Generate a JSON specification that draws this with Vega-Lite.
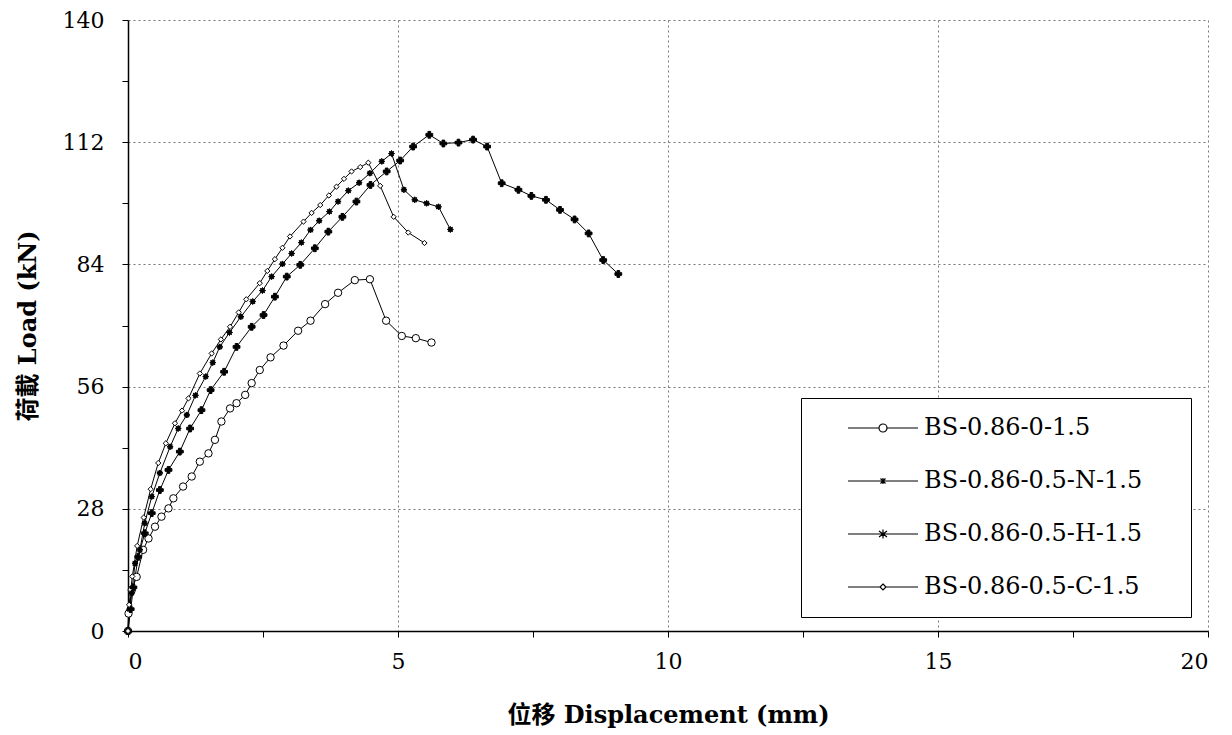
{
  "$schema": "https://vega.github.io/schema/vega-lite/v6.json",
  "width": 1080,
  "height": 611,
  "autosize": {"type": "none"},
  "padding": {"left": 128, "top": 20, "right": 24, "bottom": 104},
  "background": "white",
  "config": {
    "view": {"stroke": null},
    "font": "DejaVu Serif, Noto Sans CJK TC",
    "axis": {
      "labelFont": "DejaVu Serif",
      "labelFontSize": 22,
      "labelColor": "black",
      "titleFont": "DejaVu Serif, Noto Sans CJK TC",
      "titleFontSize": 24,
      "titleFontWeight": "bold",
      "titleColor": "black",
      "domainColor": "black",
      "domainWidth": 1.5,
      "tickColor": "black",
      "tickSize": 6,
      "tickWidth": 1,
      "gridColor": "#777777",
      "gridDash": [2, 3],
      "gridWidth": 1
    }
  },
  "data": {
    "values": [
      {"series": "BS-0.86-0-1.5", "x": 0, "y": 0},
      {"series": "BS-0.86-0-1.5", "x": 0.01, "y": 4},
      {"series": "BS-0.86-0-1.5", "x": 0.07, "y": 9.4},
      {"series": "BS-0.86-0-1.5", "x": 0.16, "y": 12.4},
      {"series": "BS-0.86-0-1.5", "x": 0.28, "y": 18.6},
      {"series": "BS-0.86-0-1.5", "x": 0.38, "y": 21.2},
      {"series": "BS-0.86-0-1.5", "x": 0.5, "y": 23.9},
      {"series": "BS-0.86-0-1.5", "x": 0.62, "y": 26.2},
      {"series": "BS-0.86-0-1.5", "x": 0.75, "y": 28.1},
      {"series": "BS-0.86-0-1.5", "x": 0.84, "y": 30.4},
      {"series": "BS-0.86-0-1.5", "x": 1.02, "y": 33.1},
      {"series": "BS-0.86-0-1.5", "x": 1.18, "y": 35.4},
      {"series": "BS-0.86-0-1.5", "x": 1.33, "y": 38.8},
      {"series": "BS-0.86-0-1.5", "x": 1.49, "y": 40.7},
      {"series": "BS-0.86-0-1.5", "x": 1.61, "y": 43.8},
      {"series": "BS-0.86-0-1.5", "x": 1.73, "y": 48.0},
      {"series": "BS-0.86-0-1.5", "x": 1.89, "y": 51.0},
      {"series": "BS-0.86-0-1.5", "x": 2.01, "y": 52.2},
      {"series": "BS-0.86-0-1.5", "x": 2.17, "y": 54.1},
      {"series": "BS-0.86-0-1.5", "x": 2.29, "y": 56.8},
      {"series": "BS-0.86-0-1.5", "x": 2.44, "y": 59.8},
      {"series": "BS-0.86-0-1.5", "x": 2.64, "y": 62.7},
      {"series": "BS-0.86-0-1.5", "x": 2.88, "y": 65.4},
      {"series": "BS-0.86-0-1.5", "x": 3.15, "y": 68.8},
      {"series": "BS-0.86-0-1.5", "x": 3.38, "y": 71.1},
      {"series": "BS-0.86-0-1.5", "x": 3.65, "y": 74.9},
      {"series": "BS-0.86-0-1.5", "x": 3.89, "y": 77.5},
      {"series": "BS-0.86-0-1.5", "x": 4.2, "y": 80.4},
      {"series": "BS-0.86-0-1.5", "x": 4.48, "y": 80.6},
      {"series": "BS-0.86-0-1.5", "x": 4.78, "y": 71.1},
      {"series": "BS-0.86-0-1.5", "x": 5.07, "y": 67.6},
      {"series": "BS-0.86-0-1.5", "x": 5.33, "y": 67.1},
      {"series": "BS-0.86-0-1.5", "x": 5.62, "y": 66.1},

      {"series": "BS-0.86-0.5-N-1.5", "x": 0, "y": 0},
      {"series": "BS-0.86-0.5-N-1.5", "x": 0.05, "y": 5},
      {"series": "BS-0.86-0.5-N-1.5", "x": 0.1, "y": 10},
      {"series": "BS-0.86-0.5-N-1.5", "x": 0.19, "y": 17},
      {"series": "BS-0.86-0.5-N-1.5", "x": 0.31, "y": 22.4},
      {"series": "BS-0.86-0.5-N-1.5", "x": 0.44, "y": 27},
      {"series": "BS-0.86-0.5-N-1.5", "x": 0.59, "y": 32.3},
      {"series": "BS-0.86-0.5-N-1.5", "x": 0.75, "y": 36.9},
      {"series": "BS-0.86-0.5-N-1.5", "x": 0.96, "y": 41.1},
      {"series": "BS-0.86-0.5-N-1.5", "x": 1.15, "y": 46.4},
      {"series": "BS-0.86-0.5-N-1.5", "x": 1.36, "y": 50.6},
      {"series": "BS-0.86-0.5-N-1.5", "x": 1.53, "y": 55.2},
      {"series": "BS-0.86-0.5-N-1.5", "x": 1.78, "y": 59.4},
      {"series": "BS-0.86-0.5-N-1.5", "x": 2.01, "y": 65.1},
      {"series": "BS-0.86-0.5-N-1.5", "x": 2.29, "y": 69.7},
      {"series": "BS-0.86-0.5-N-1.5", "x": 2.51, "y": 72.4},
      {"series": "BS-0.86-0.5-N-1.5", "x": 2.72, "y": 76.6},
      {"series": "BS-0.86-0.5-N-1.5", "x": 2.94, "y": 81.2},
      {"series": "BS-0.86-0.5-N-1.5", "x": 3.19, "y": 83.9},
      {"series": "BS-0.86-0.5-N-1.5", "x": 3.46, "y": 87.7},
      {"series": "BS-0.86-0.5-N-1.5", "x": 3.71, "y": 91.5},
      {"series": "BS-0.86-0.5-N-1.5", "x": 3.97, "y": 94.9},
      {"series": "BS-0.86-0.5-N-1.5", "x": 4.23, "y": 98.4},
      {"series": "BS-0.86-0.5-N-1.5", "x": 4.49, "y": 102.2},
      {"series": "BS-0.86-0.5-N-1.5", "x": 4.79, "y": 105.3},
      {"series": "BS-0.86-0.5-N-1.5", "x": 5.04, "y": 107.8},
      {"series": "BS-0.86-0.5-N-1.5", "x": 5.28, "y": 111},
      {"series": "BS-0.86-0.5-N-1.5", "x": 5.58, "y": 113.7},
      {"series": "BS-0.86-0.5-N-1.5", "x": 5.84, "y": 111.7},
      {"series": "BS-0.86-0.5-N-1.5", "x": 6.12, "y": 111.9},
      {"series": "BS-0.86-0.5-N-1.5", "x": 6.39, "y": 112.6},
      {"series": "BS-0.86-0.5-N-1.5", "x": 6.65, "y": 111},
      {"series": "BS-0.86-0.5-N-1.5", "x": 6.92, "y": 102.6},
      {"series": "BS-0.86-0.5-N-1.5", "x": 7.23, "y": 101.1},
      {"series": "BS-0.86-0.5-N-1.5", "x": 7.47, "y": 99.7},
      {"series": "BS-0.86-0.5-N-1.5", "x": 7.74, "y": 98.8},
      {"series": "BS-0.86-0.5-N-1.5", "x": 8.0, "y": 96.5},
      {"series": "BS-0.86-0.5-N-1.5", "x": 8.27, "y": 94.3},
      {"series": "BS-0.86-0.5-N-1.5", "x": 8.53, "y": 91.1},
      {"series": "BS-0.86-0.5-N-1.5", "x": 8.8, "y": 85.0},
      {"series": "BS-0.86-0.5-N-1.5", "x": 9.08, "y": 81.8},

      {"series": "BS-0.86-0.5-H-1.5", "x": 0, "y": 0},
      {"series": "BS-0.86-0.5-H-1.5", "x": 0.03, "y": 5},
      {"series": "BS-0.86-0.5-H-1.5", "x": 0.07, "y": 8.7},
      {"series": "BS-0.86-0.5-H-1.5", "x": 0.13, "y": 15.5},
      {"series": "BS-0.86-0.5-H-1.5", "x": 0.22, "y": 18.6},
      {"series": "BS-0.86-0.5-H-1.5", "x": 0.31, "y": 24.7},
      {"series": "BS-0.86-0.5-H-1.5", "x": 0.44, "y": 30.8},
      {"series": "BS-0.86-0.5-H-1.5", "x": 0.59, "y": 36.2},
      {"series": "BS-0.86-0.5-H-1.5", "x": 0.78, "y": 42.2},
      {"series": "BS-0.86-0.5-H-1.5", "x": 0.93, "y": 46.4},
      {"series": "BS-0.86-0.5-H-1.5", "x": 1.09, "y": 49.5},
      {"series": "BS-0.86-0.5-H-1.5", "x": 1.25, "y": 54},
      {"series": "BS-0.86-0.5-H-1.5", "x": 1.44, "y": 58.3},
      {"series": "BS-0.86-0.5-H-1.5", "x": 1.57, "y": 61.5},
      {"series": "BS-0.86-0.5-H-1.5", "x": 1.7, "y": 65.1},
      {"series": "BS-0.86-0.5-H-1.5", "x": 1.88, "y": 68.4},
      {"series": "BS-0.86-0.5-H-1.5", "x": 2.09, "y": 72.0},
      {"series": "BS-0.86-0.5-H-1.5", "x": 2.31, "y": 75.5},
      {"series": "BS-0.86-0.5-H-1.5", "x": 2.49, "y": 78.0},
      {"series": "BS-0.86-0.5-H-1.5", "x": 2.66, "y": 81.2},
      {"series": "BS-0.86-0.5-H-1.5", "x": 2.86, "y": 84.1},
      {"series": "BS-0.86-0.5-H-1.5", "x": 3.03, "y": 86.5},
      {"series": "BS-0.86-0.5-H-1.5", "x": 3.21, "y": 89.0},
      {"series": "BS-0.86-0.5-H-1.5", "x": 3.38, "y": 91.9},
      {"series": "BS-0.86-0.5-H-1.5", "x": 3.54, "y": 94.0},
      {"series": "BS-0.86-0.5-H-1.5", "x": 3.73, "y": 96.1},
      {"series": "BS-0.86-0.5-H-1.5", "x": 3.89, "y": 98.4},
      {"series": "BS-0.86-0.5-H-1.5", "x": 4.08, "y": 100.9},
      {"series": "BS-0.86-0.5-H-1.5", "x": 4.28, "y": 102.7},
      {"series": "BS-0.86-0.5-H-1.5", "x": 4.48, "y": 104.9},
      {"series": "BS-0.86-0.5-H-1.5", "x": 4.7, "y": 107.6},
      {"series": "BS-0.86-0.5-H-1.5", "x": 4.88, "y": 109.4},
      {"series": "BS-0.86-0.5-H-1.5", "x": 5.11, "y": 101.1},
      {"series": "BS-0.86-0.5-H-1.5", "x": 5.31, "y": 98.8},
      {"series": "BS-0.86-0.5-H-1.5", "x": 5.53, "y": 98.0},
      {"series": "BS-0.86-0.5-H-1.5", "x": 5.75, "y": 97.2},
      {"series": "BS-0.86-0.5-H-1.5", "x": 5.97, "y": 92.0},

      {"series": "BS-0.86-0.5-C-1.5", "x": 0, "y": 0},
      {"series": "BS-0.86-0.5-C-1.5", "x": 0.02, "y": 6},
      {"series": "BS-0.86-0.5-C-1.5", "x": 0.08, "y": 12.5},
      {"series": "BS-0.86-0.5-C-1.5", "x": 0.17, "y": 19.5},
      {"series": "BS-0.86-0.5-C-1.5", "x": 0.29, "y": 26},
      {"series": "BS-0.86-0.5-C-1.5", "x": 0.42, "y": 32.5},
      {"series": "BS-0.86-0.5-C-1.5", "x": 0.56, "y": 38.5},
      {"series": "BS-0.86-0.5-C-1.5", "x": 0.7, "y": 43},
      {"series": "BS-0.86-0.5-C-1.5", "x": 0.87, "y": 47.6},
      {"series": "BS-0.86-0.5-C-1.5", "x": 1.0, "y": 50.5},
      {"series": "BS-0.86-0.5-C-1.5", "x": 1.12, "y": 53.3},
      {"series": "BS-0.86-0.5-C-1.5", "x": 1.33, "y": 59.0},
      {"series": "BS-0.86-0.5-C-1.5", "x": 1.55, "y": 63.6},
      {"series": "BS-0.86-0.5-C-1.5", "x": 1.72, "y": 66.8},
      {"series": "BS-0.86-0.5-C-1.5", "x": 1.89, "y": 69.7},
      {"series": "BS-0.86-0.5-C-1.5", "x": 2.05, "y": 73},
      {"series": "BS-0.86-0.5-C-1.5", "x": 2.19, "y": 76.0},
      {"series": "BS-0.86-0.5-C-1.5", "x": 2.44, "y": 79.7},
      {"series": "BS-0.86-0.5-C-1.5", "x": 2.58, "y": 82.5},
      {"series": "BS-0.86-0.5-C-1.5", "x": 2.72, "y": 85.2},
      {"series": "BS-0.86-0.5-C-1.5", "x": 2.86, "y": 87.8},
      {"series": "BS-0.86-0.5-C-1.5", "x": 3.0, "y": 90.4},
      {"series": "BS-0.86-0.5-C-1.5", "x": 3.25, "y": 93.8},
      {"series": "BS-0.86-0.5-C-1.5", "x": 3.4, "y": 95.8},
      {"series": "BS-0.86-0.5-C-1.5", "x": 3.56, "y": 97.6},
      {"series": "BS-0.86-0.5-C-1.5", "x": 3.72, "y": 99.8},
      {"series": "BS-0.86-0.5-C-1.5", "x": 3.86, "y": 101.8},
      {"series": "BS-0.86-0.5-C-1.5", "x": 4.0, "y": 103.6},
      {"series": "BS-0.86-0.5-C-1.5", "x": 4.14, "y": 105.3},
      {"series": "BS-0.86-0.5-C-1.5", "x": 4.3, "y": 106.3},
      {"series": "BS-0.86-0.5-C-1.5", "x": 4.45, "y": 107.3},
      {"series": "BS-0.86-0.5-C-1.5", "x": 4.67, "y": 102.0},
      {"series": "BS-0.86-0.5-C-1.5", "x": 4.92, "y": 94.9},
      {"series": "BS-0.86-0.5-C-1.5", "x": 5.19, "y": 91.3},
      {"series": "BS-0.86-0.5-C-1.5", "x": 5.49, "y": 88.9}
    ]
  },
  "encoding": {
    "x": {
      "field": "x",
      "type": "quantitative",
      "scale": {"domain": [0, 20], "nice": false},
      "axis": {
        "title": "位移 Displacement (mm)",
        "values": [0, 2.5, 5, 7.5, 10, 12.5, 15, 17.5, 20],
        "labelExpr": "datum.value % 5 === 0 ? format(datum.value, 'd') : ''",
        "labelPadding": 14,
        "titlePadding": 31,
        "grid": true,
        "gridOpacity": {"condition": {"test": "datum.value % 5 === 0 && datum.value > 0", "value": 1}, "value": 0}
      }
    },
    "y": {
      "field": "y",
      "type": "quantitative",
      "scale": {"domain": [0, 140], "nice": false},
      "axis": {
        "title": "荷載 Load (kN)",
        "values": [0, 14, 28, 42, 56, 70, 84, 98, 112, 126, 140],
        "labelExpr": "datum.value % 28 === 0 ? format(datum.value, 'd') : ''",
        "labelPadding": 18,
        "titlePadding": 22,
        "grid": true,
        "gridOpacity": {"condition": {"test": "datum.value % 28 === 0 && datum.value > 0", "value": 1}, "value": 0}
      }
    }
  },
  "layer": [
    {
      "mark": {"type": "line", "color": "black", "strokeWidth": 1},
      "encoding": {"detail": {"field": "series", "type": "nominal"}}
    },
    {
      "mark": {"type": "point", "filled": true, "stroke": "black", "strokeWidth": 1, "opacity": 1},
      "encoding": {
        "shape": {
          "field": "series", "type": "nominal",
          "scale": {
            "domain": ["BS-0.86-0-1.5", "BS-0.86-0.5-N-1.5", "BS-0.86-0.5-H-1.5", "BS-0.86-0.5-C-1.5"],
            "range": ["circle", "cross", "M0,-1L0.3,-0.55L0.7,-0.7L0.55,-0.3L1,0L0.55,0.3L0.7,0.7L0.3,0.55L0,1L-0.3,0.55L-0.7,0.7L-0.55,0.3L-1,0L-0.55,-0.3L-0.7,-0.7L-0.3,-0.55Z", "diamond"]
          },
          "legend": null
        },
        "fill": {
          "field": "series", "type": "nominal",
          "scale": {
            "domain": ["BS-0.86-0-1.5", "BS-0.86-0.5-N-1.5", "BS-0.86-0.5-H-1.5", "BS-0.86-0.5-C-1.5"],
            "range": ["white", "black", "black", "white"]
          },
          "legend": null
        },
        "size": {
          "field": "series", "type": "nominal",
          "scale": {
            "domain": ["BS-0.86-0-1.5", "BS-0.86-0.5-N-1.5", "BS-0.86-0.5-H-1.5", "BS-0.86-0.5-C-1.5"],
            "range": [55, 28, 80, 30]
          },
          "legend": null
        }
      }
    },
    {
      "transform": [{"filter": "false"}],
      "mark": {"type": "point", "filled": false, "color": "black", "strokeWidth": 1.2, "opacity": 1},
      "encoding": {
        "shape": {
          "field": "series", "type": "nominal",
          "scale": {
            "domain": ["BS-0.86-0-1.5", "BS-0.86-0.5-N-1.5", "BS-0.86-0.5-H-1.5", "BS-0.86-0.5-C-1.5"],
            "range": [
              "M-1,0H5.2M6.8,0H13M6.8,0A0.8,0.8 0 1 1 5.2,0A0.8,0.8 0 1 1 6.8,0ZM63.5,0",
              "M-1,0H13M5.5,-0.5L6.5,0.5M5.5,0.5L6.5,-0.5M6,-0.6V0.6M63.5,0",
              "M-1,0H13M6,-0.9V0.9M5.2,-0.6L6.8,0.6M5.2,0.6L6.8,-0.6M5.1,0H6.9M63.5,0",
              "M-1,0H5.4M6.6,0H13M6,-0.6L6.6,0L6,0.6L5.4,0ZM63.5,0"
            ]
          },
          "legend": {
            "title": null,
            "orient": "none",
            "legendX": 673,
            "legendY": 378,
            "padding": 18,
            "rowPadding": 29,
            "symbolSize": 100,
            "symbolOffset": 22,
            "symbolStrokeColor": "black",
            "symbolFillColor": "white",
            "symbolStrokeWidth": 1.2,
            "symbolOpacity": 1,
            "labelOffset": 59,
            "labelFont": "DejaVu Serif",
            "labelFontSize": 24,
            "labelColor": "black",
            "labelLimit": 400,
            "strokeColor": "black",
            "fillColor": "white"
          }
        }
      }
    }
  ],
  "resolve": {"scale": {"shape": "independent"}}
}
